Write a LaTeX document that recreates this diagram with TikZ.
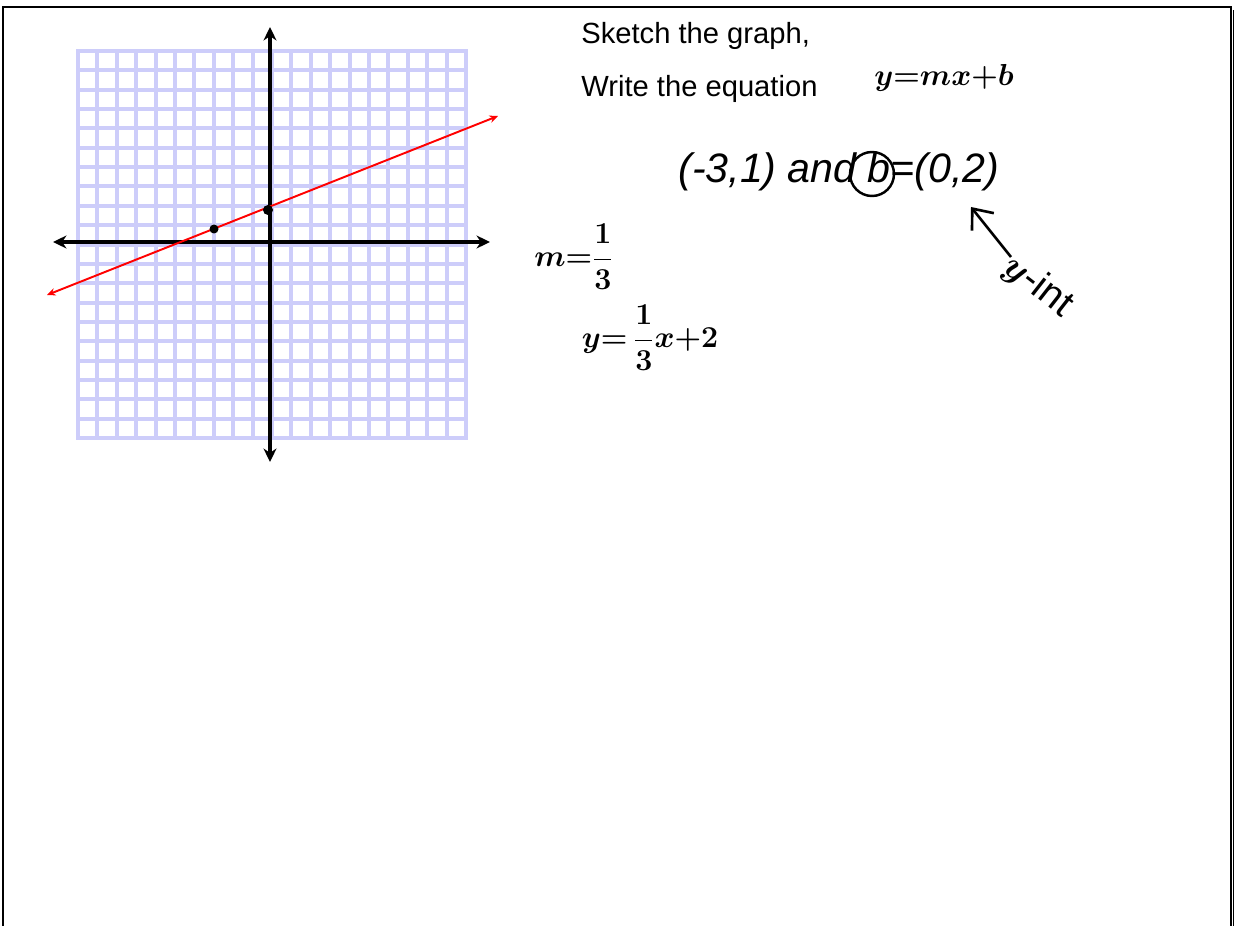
\documentclass[tikz,border=0pt]{standalone}
\usepackage{fontspec}
\setmainfont{Liberation Sans}
\usetikzlibrary{arrows.meta, positioning}
\definecolor{gridlav}{RGB}{205, 205, 250}
\definecolor{graphred}{RGB}{255, 0, 0}
\definecolor{shade}{RGB}{150, 150, 150}
\tikzset{
    prompt/.style={anchor=base west, inner sep=0pt, font=\fontsize{16.6}{20}\selectfont},
    given/.style={anchor=base west, inner sep=0pt, font=\fontsize{23.4}{28}\selectfont\itshape},
    hand/.style={inner sep=0pt, font=\fontsize{19}{23}\selectfont\boldmath},
    gridline/.style={draw=gridlav, line width=2.3pt, line cap=rect},
    axisline/.style={{Stealth[length=2.7mm, width=2.6mm]}-{Stealth[length=2.7mm, width=2.6mm]}, line width=2pt, black},
    redline/.style={{Stealth[length=1.7mm, width=1.5mm]}-{Stealth[length=1.7mm, width=1.5mm]}, line width=1.1pt, graphred},
    inkarr/.style={-{Straight Barb[length=3.4mm, width=5.6mm]}, line width=1.5pt, black},
    pageframe/.style={line width=1.4pt, black}
}

\begin{document}
\begin{tikzpicture}[x=0.02cm, y=-0.02cm]
        \useasboundingbox (0,0) rectangle (1235,926);
        \draw[shade, line width=1.1pt] (1233.5,10) -- (1233.5,926);
        \draw[pageframe] (3,926) |- (1231,7) -- (1231,926);
        \foreach \i in {0,...,20} {
            \draw[gridline] ({78+19.4*\i},51) -- ({78+19.4*\i},438);
            \draw[gridline] (78,{51+19.35*\i}) -- (466,{51+19.35*\i});
        }
        \draw[axisline] (53,242) -- (490,242);
        \draw[axisline] (270,27) -- (270,462);
        \draw[redline] (47,295) -- (498,116);
        \fill (214,229) circle (0.09cm);
        \fill (268,210) circle (0.1cm);

        \node[prompt] (sketch) at (581,44) {Sketch the graph,};
        \node[prompt] (write) at (581,97) {Write the equation};
        \node[given] (points) at (678,183) {(-3,1) and b=(0,2)};
        \node[draw, circle, line width=1.4pt, minimum size=0.88cm, inner sep=0pt] (bcirc) at (872,174) {};
        \node[hand, font=\fontsize{18}{22}\selectfont\boldmath] (slopeform) at (944,78) {$y{=}mx{+}b$};
        \node[hand] (slope) at (574,257) {$m{=}{\displaystyle\frac{1}{3}}$};
        \node[hand] (answer) at (650,338) {$y{=}\,{\displaystyle\frac{1}{3}}x{+}2$};
        \node[hand, rotate=-38, font=\fontsize{22}{26}\selectfont\boldmath] (yint) at (1038,286) {$y$-int};
        \coordinate (tailpt) at (1011,257);
        \coordinate (tippt) at (971,207);
        \draw[inkarr] (tailpt) -- (tippt);
\end{tikzpicture}
\end{document}
